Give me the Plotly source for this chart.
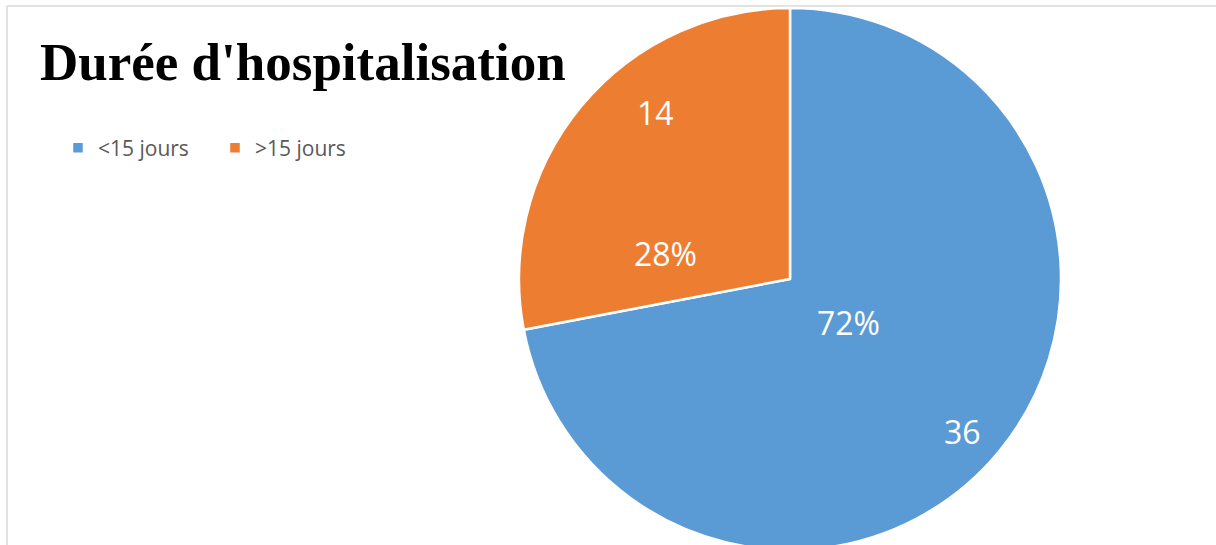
import math
import plotly.graph_objects as go

categories = ["<15 jours", ">15 jours"]
values = [36, 14]
colors = ["#5B9BD5", "#ED7D31"]
title_text = "Durée d'hospitalisation"

W, H = 1216, 550          # figure slightly taller than the 545 window (pie is clipped at bottom)
MT, MB, ML, MR = 8, 0, 0, 0
plot_w = W - ML - MR
plot_h = H - MT - MB


def px2x(px):
    return (px - ML) / plot_w


def px2y(py):
    return 1 - (py - MT) / plot_h


dom_x = [px2x(790 - 271), px2x(790 + 271)]
dom_y = [0, 1]

fig = go.Figure()
fig.add_trace(go.Pie(
    labels=categories, values=values, sort=False, direction="clockwise", rotation=0,
    marker=dict(colors=colors, line=dict(color="white", width=2.5)),
    textinfo="none", hoverinfo="label+value+percent",
    domain=dict(x=dom_x, y=dom_y),
))

# label placement (style): radial fraction and angular tweak per label
pct_style = [(0.27, -3), (0.47, -28)]
val_style = [(0.85, 2), (0.79, 11.5)]

cx_px = ML + (dom_x[0] + dom_x[1]) / 2 * plot_w
cy_px = MT + (1 - (dom_y[0] + dom_y[1]) / 2) * plot_h
R = min((dom_x[1] - dom_x[0]) * plot_w, (dom_y[1] - dom_y[0]) * plot_h) / 2

total = sum(values)
annotations = []
start = 0.0
for i, v in enumerate(values):
    span = v / total * 360
    mid = start + span / 2
    pct = round(v / total * 100)
    for text, (fr, dang) in ((f"{pct}%", pct_style[i]), (str(v), val_style[i])):
        a = math.radians(mid + dang)
        px = cx_px + fr * R * math.sin(a)
        py = cy_px - fr * R * math.cos(a)
        annotations.append(dict(
            x=px2x(px), y=px2y(py), xref="paper", yref="paper",
            text=text, showarrow=False, xanchor="center", yanchor="middle",
            font=dict(family="Open Sans", size=32, color="white"),
        ))
    start += span

annotations.append(dict(
    x=px2x(38), y=px2y(62), xref="paper", yref="paper", xanchor="left", yanchor="middle",
    text=f"<b>{title_text}</b>", showarrow=False,
    font=dict(family="Liberation Serif", size=53, color="black"),
))

fig.update_layout(
    width=W, height=H,
    margin=dict(l=ML, r=MR, t=MT, b=MB),
    paper_bgcolor="white", plot_bgcolor="white",
    annotations=annotations,
    showlegend=True,
    legend=dict(orientation="h", x=px2x(58), y=px2y(148), xanchor="left", yanchor="middle",
                font=dict(family="Open Sans", size=21, color="#595959"),
                bgcolor="rgba(0,0,0,0)", itemwidth=30, traceorder="normal",
                entrywidth=112, entrywidthmode="pixels"),
    shapes=[
        dict(type="line", xref="paper", yref="paper", x0=px2x(7), x1=px2x(7), y0=px2y(H), y1=px2y(6),
             line=dict(color="#D9D9D9", width=1.5), layer="below"),
        dict(type="line", xref="paper", yref="paper", x0=px2x(7), x1=1, y0=px2y(6), y1=px2y(6),
             line=dict(color="#D9D9D9", width=1.5), layer="below"),
    ],
)

fig.write_html("out.html", config={"displayModeBar": False},
               post_script="document.body.style.margin='0';document.body.style.overflow='hidden';")
